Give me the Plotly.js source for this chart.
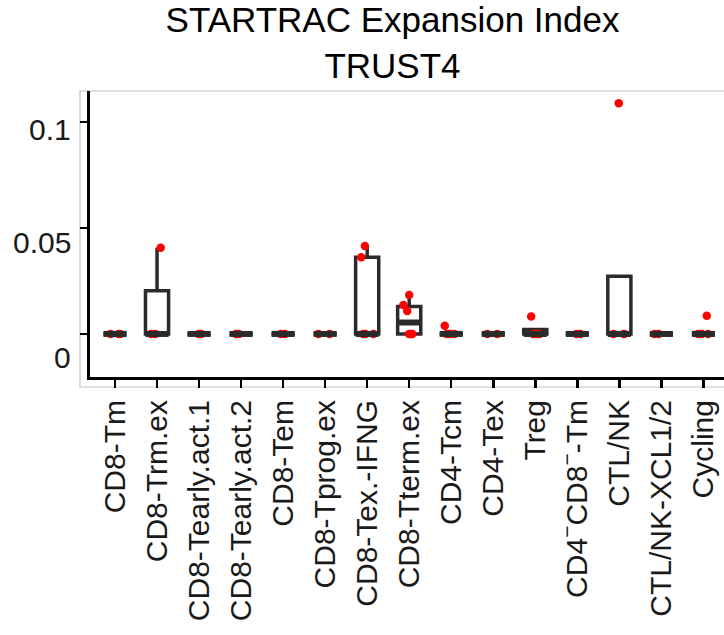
<!DOCTYPE html>
<html>
<head>
<meta charset="utf-8">
<script src="https://cdn.plot.ly/plotly-3.0.1.min.js"></script>
<style>
html,body{margin:0;padding:0;background:#fff;}
#chart{width:724px;height:635px;}
</style>
</head>
<body>
<div id="chart"></div>
<script>
// ---- data ----
var categories = ['CD8-Tm','CD8-Trm.ex','CD8-Tearly.act.1','CD8-Tearly.act.2','CD8-Tem','CD8-Tprog.ex','CD8-Tex.-IFNG','CD8-Tterm.ex','CD4-Tcm','CD4-Tex','Treg','CD4<sup>−</sup>CD8<sup>−</sup>-Tm','CTL/NK','CTL/NK-XCL1/2','Cycling'];
var v_CD8_Tm        = [0, 0, 0];
var v_CD8_Trm_ex    = [0, 0, 0.0407];
var v_CD8_Tearly1   = [0, 0];
var v_CD8_Tearly2   = [0, 0];
var v_CD8_Tem       = [0, 0];
var v_CD8_Tprog_ex  = [0, 0];
var v_CD8_Tex_IFNG  = [0, 0, 0, 0.0362, 0.0415];
var v_CD8_Tterm_ex  = [0, 0, 0, 0.0108, 0.0137, 0.0184];
var v_CD4_Tcm       = [0, 0, 0, 0, 0.0039];
var v_CD4_Tex       = [0, 0];
var v_Treg          = [0, 0, 0, 0.0082];
var v_DN_Tm         = [0, 0];
var v_CTL_NK        = [0, 0, 0, 0.1088];
var v_CTL_NK_XCL    = [0, 0];
var v_Cycling       = [0, 0, 0, 0, 0.0086];
var seriesValues = [v_CD8_Tm, v_CD8_Trm_ex, v_CD8_Tearly1, v_CD8_Tearly2, v_CD8_Tem, v_CD8_Tprog_ex,
  v_CD8_Tex_IFNG, v_CD8_Tterm_ex, v_CD4_Tcm, v_CD4_Tex, v_Treg, v_DN_Tm, v_CTL_NK, v_CTL_NK_XCL, v_Cycling];
var yTickVals = [0, 0.05, 0.1];
var yTickText = ['0', '0.05', '0.1'];
var titleText = 'STARTRAC Expansion Index<br>TRUST4';

// ---- box statistics (R type-7 quantiles, ggplot whiskers) ----
function quant(sorted, p) {
  var h = (sorted.length - 1) * p, lo = Math.floor(h), hi = Math.ceil(h);
  return sorted[lo] + (h - lo) * (sorted[hi] - sorted[lo]);
}
var xIdx = [], q1 = [], med = [], q3 = [], lf = [], uf = [];
var ptX = [], ptY = [];
seriesValues.forEach(function (vals, i) {
  var s = vals.slice().sort(function (a, b) { return a - b; });
  var a = quant(s, 0.25), m = quant(s, 0.5), b = quant(s, 0.75), iqr = b - a;
  var lo = s.filter(function (v) { return v >= a - 1.5 * iqr; })[0];
  var hiArr = s.filter(function (v) { return v <= b + 1.5 * iqr; });
  var hi = hiArr[hiArr.length - 1];
  xIdx.push(i); q1.push(a); med.push(m); q3.push(b);
  lf.push(Math.min(lo, a)); uf.push(Math.max(hi, b));
  vals.forEach(function (v) { ptX.push(i); ptY.push(v); });
});

var FONT = '"Liberation Sans", Arial, Helvetica, sans-serif';
var BOXW = 0.55;

var traces = [
  { type: 'box', x: xIdx, q1: q1, median: med, q3: q3, lowerfence: lf, upperfence: uf,
    width: BOXW, whiskerwidth: 0, fillcolor: '#ffffff',
    line: { color: '#2b2b2b', width: 3.5 }, boxpoints: false, showlegend: false, hoverinfo: 'skip' },
  { type: 'scatter', mode: 'markers', x: xIdx, y: med,
    marker: { symbol: 'line-ew', size: 16.5, color: '#2b2b2b', line: { color: '#2b2b2b', width: 6 } },
    showlegend: false, hoverinfo: 'skip' },
  { type: 'box', x: ptX, y: ptY, width: BOXW, boxpoints: 'all', jitter: 0.6, pointpos: 0,
    fillcolor: 'rgba(0,0,0,0)', line: { color: 'rgba(0,0,0,0)', width: 0 }, whiskerwidth: 0,
    marker: { color: '#ff0000', size: 8.5, opacity: 1 }, showlegend: false, hoverinfo: 'skip' }
];

var annotations = yTickVals.map(function (v, k) {
  return { x: 0, xref: 'paper', y: v, yref: 'y', xanchor: 'right', yanchor: 'middle',
    xshift: -17, yshift: [-24, -15, -8][k], text: yTickText[k], showarrow: false,
    font: { family: FONT, size: 30, color: '#1a1a1a' } };
});

var layout = {
  width: 724, height: 635,
  margin: { l: 90, r: 0, t: 91, b: 258, pad: 0 },
  paper_bgcolor: '#ffffff', plot_bgcolor: '#ffffff',
  boxmode: 'overlay',
  font: { family: FONT, color: '#1a1a1a' },
  title: { text: titleText, x: 392.5 / 724, xref: 'container', xanchor: 'center',
    y: 1 - 32 / 635, yref: 'container', yanchor: 'top',
    font: { family: FONT, size: 35, color: '#000000' } },
  xaxis: { type: 'linear', range: [-0.595, 14.49], tickmode: 'array', tickvals: xIdx, ticktext: categories,
    tickangle: -90, ticks: 'outside', ticklen: 8, tickwidth: 2.5, tickcolor: '#000000',
    showline: true, linecolor: '#000000', linewidth: 3, showgrid: false, zeroline: false,
    tickfont: { family: FONT, size: 30, color: '#1a1a1a' }, fixedrange: true },
  yaxis: { range: [-0.0203, 0.1146], tickmode: 'array', tickvals: yTickVals, showticklabels: false,
    ticks: 'outside', ticklen: 7, tickwidth: 2.5, tickcolor: '#000000',
    showline: true, linecolor: '#000000', linewidth: 3, showgrid: false, zeroline: false, fixedrange: true },
  annotations: annotations,
  shapes: [
    { type: 'rect', xref: 'paper', yref: 'paper', x0: -10 / 634, x1: 1.1, y0: -10 / 286, y1: 1,
      line: { color: '#c4c4c4', width: 1.2 }, fillcolor: 'rgba(0,0,0,0)', layer: 'below' }
  ]
};

Plotly.newPlot('chart', traces, layout, { displayModeBar: false, staticPlot: true });
</script>
</body>
</html>
